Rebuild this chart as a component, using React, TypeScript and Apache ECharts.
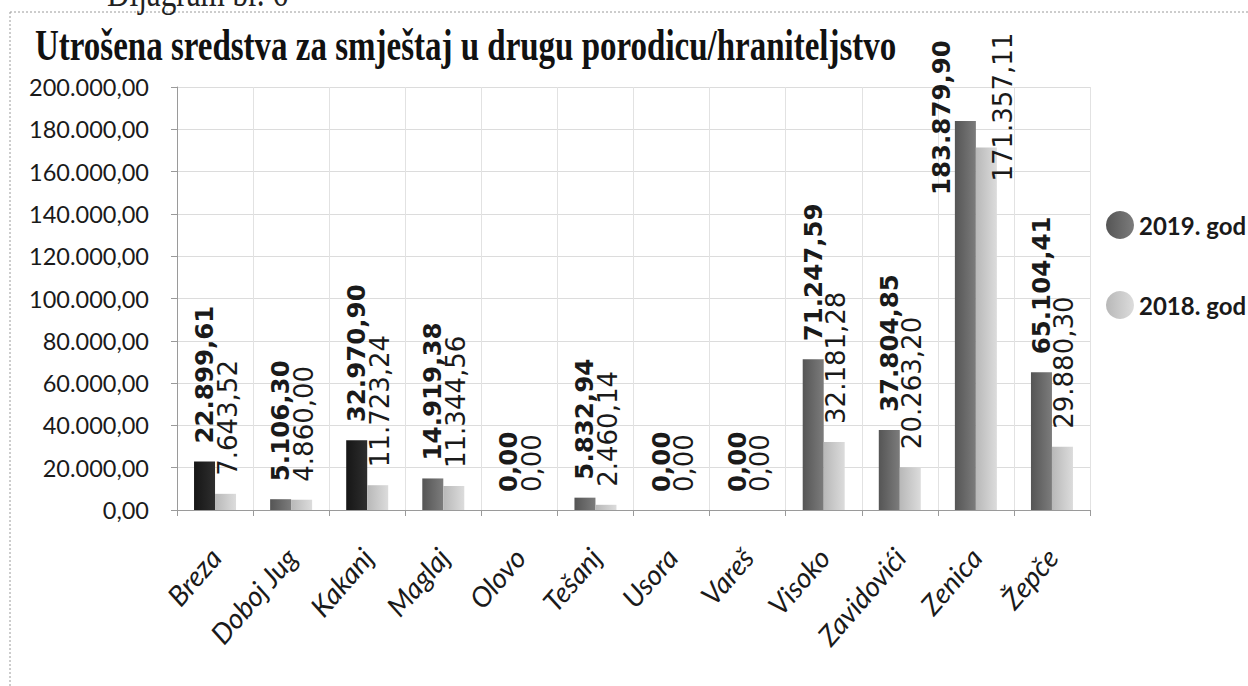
import React, { useEffect, useRef } from "react";
import * as echarts from "echarts";

const categories = ["Breza", "Doboj Jug", "Kakanj", "Maglaj", "Olovo", "Tešanj", "Usora", "Vareš", "Visoko", "Zavidovići", "Zenica", "Žepče"];
const values2019 = [22899.61, 5106.3, 32970.9, 14919.38, 0, 5832.94, 0, 0, 71247.59, 37804.85, 183879.9, 65104.41];
const values2018 = [7643.52, 4860.0, 11723.24, 11344.56, 0, 2460.14, 0, 0, 32181.28, 20263.2, 171357.11, 29880.3];
const seriesNames = ["2019. god", "2018. god"];
const yTicks = { min: 0, max: 200000, interval: 20000 };
const titleText = "Utrošena sredstva za smještaj u drugu porodicu/hraniteljstvo";
const captionText = "Dijagram br. 6";

function fmt(v: number): string {
  const s = v.toFixed(2);
  const [i, d] = s.split(".");
  return i.replace(/\B(?=(\d{3})+(?!\d))/g, ".") + "," + d;
}

const grad = (a: string, b: string) =>
  new echarts.graphic.LinearGradient(0, 0, 1, 0, [
    { offset: 0, color: a },
    { offset: 1, color: b },
  ]);

export default function App() {
  const ref = useRef<HTMLDivElement>(null);
  useEffect(() => {
    if (!ref.current) return;
    const chart = echarts.init(ref.current, null, { renderer: "svg" });
    const darkIdx = [0, 2];
    // rotated labels: offset is in the label's rotated frame ([along text, across text])
    const data2019 = values2019.map((v, i) => {
      const item: any = { value: v };
      if (darkIdx.includes(i)) item.itemStyle = { color: grad("#161616", "#2e2e2e") };
      if (i === 10) item.label = { offset: [-92, -24] };
      return item;
    });
    const data2018 = values2018.map((v, i) => {
      const item: any = { value: v };
      if (i === 10) item.label = { offset: [-52, 17] };
      return item;
    });
    chart.setOption({
      animation: false,
      backgroundColor: "#ffffff",
      graphic: [
        {
          type: "line",
          shape: { x1: 10, y1: 12, x2: 1248, y2: 12 },
          style: { stroke: "#9a9a9a", lineWidth: 1, lineDash: [2, 2] },
        },
        {
          type: "line",
          shape: { x1: 10, y1: 12, x2: 10, y2: 686 },
          style: { stroke: "#9a9a9a", lineWidth: 1, lineDash: [2, 2] },
        },
        {
          type: "text",
          x: 107,
          y: -7,
          scaleX: 0.78,
          style: {
            text: captionText,
            font: '40px "Liberation Serif"',
            fill: "#222",
            verticalAlign: "middle",
          },
        },
        {
          type: "text",
          x: 35,
          y: 45,
          scaleX: 0.75,
          style: {
            text: titleText,
            font: 'bold 44px "Liberation Serif"',
            fill: "#111",
            verticalAlign: "middle",
          },
        },
      ],
      legend: {
        orient: "vertical",
        left: 1101,
        top: 206,
        icon: "circle",
        itemWidth: 28,
        itemHeight: 30,
        itemGap: 52,
        textStyle: { fontFamily: "Lato", fontWeight: "bold", fontSize: 24, color: "#1a1a1a" },
        data: seriesNames,
      },
      grid: { left: 177, right: 158, top: 87, bottom: 176, containLabel: false },
      xAxis: {
        type: "category",
        data: categories,
        axisLine: { lineStyle: { color: "#9a9a9a" } },
        axisTick: { show: true, length: 6, lineStyle: { color: "#9a9a9a" } },
        splitLine: { show: true, lineStyle: { color: "#e2e2e2" } },
        axisLabel: {
          rotate: 49,
          interval: 0,
          margin: 42,
          fontFamily: "Lato",
          fontStyle: "italic",
          fontSize: 28,
          color: "#1a1a1a",
        },
      },
      yAxis: {
        type: "value",
        min: yTicks.min,
        max: yTicks.max,
        interval: yTicks.interval,
        axisLine: { show: true, lineStyle: { color: "#9a9a9a" } },
        axisTick: { show: true, length: 6, lineStyle: { color: "#9a9a9a" } },
        splitLine: { lineStyle: { color: "#dcdcdc" } },
        axisLabel: {
          formatter: (v: number) => fmt(v),
          fontFamily: "Lato",
          fontSize: 23.5,
          color: "#1a1a1a",
          margin: 28,
        },
      },
      series: [
        {
          name: seriesNames[0],
          type: "bar",
          barWidth: 21,
          barGap: "0%",
          data: data2019,
          itemStyle: { color: grad("#555555", "#7c7c7c") },
          label: {
            show: true,
            position: "top",
            distance: 18,
            rotate: 90,
            align: "left",
            verticalAlign: "middle",
            formatter: (p: any) => fmt(p.value),
            fontFamily: "DejaVu Sans",
            fontWeight: "bold",
            fontSize: 24.5,
            color: "#1a1a1a",
          },
        },
        {
          name: seriesNames[1],
          type: "bar",
          barWidth: 21,
          barGap: "0%",
          data: data2018,
          itemStyle: { color: grad("#b8b8b8", "#dcdcdc") },
          label: {
            show: true,
            position: "top",
            distance: 18,
            rotate: 90,
            align: "left",
            verticalAlign: "middle",
            offset: [0, 2],
            formatter: (p: any) => fmt(p.value),
            fontFamily: "DejaVu Sans",
            fontSize: 26,
            color: "#1a1a1a",
          },
        },
      ],
      color: ["#6a6a6a", "#cfcfcf"],
    });
    return () => chart.dispose();
  }, []);
  return (
    <div
      ref={ref}
      style={{ position: "fixed", left: 0, top: 0, width: 1248, height: 686, background: "#fff" }}
    />
  );
}
